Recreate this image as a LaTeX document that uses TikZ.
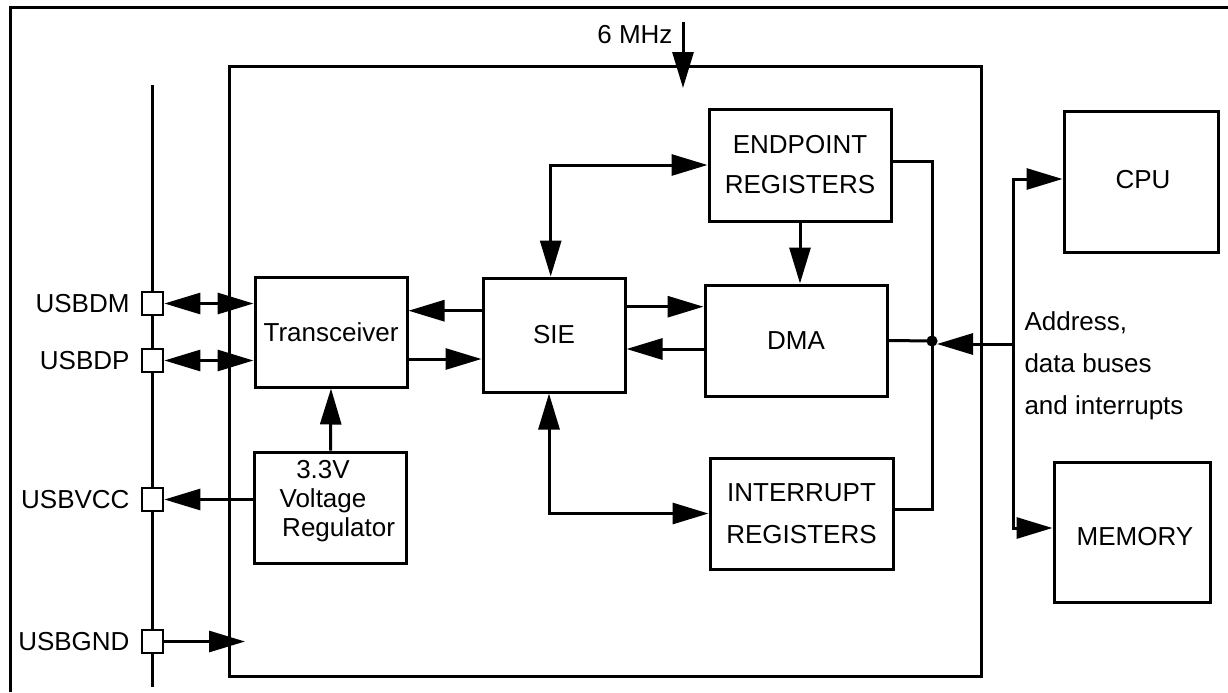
\documentclass[tikz,border=0pt]{standalone}
\usepackage{fontspec}
\setmainfont{Liberation Sans}
\usetikzlibrary{arrows.meta}
\begin{document}
\begin{tikzpicture}[x=0.5pt,y=-0.5pt,
  line width=1.5pt,
  every node/.style={font=\fontsize{13pt}{15pt}\selectfont, inner sep=0pt},
  blk/.style={draw, line width=1.5pt, align=center},
  pin/.style={draw, fill=white, line width=1.4pt, minimum width=10.5pt, minimum height=11.5pt},
  tipT/.tip={Triangle[length=18pt,width=10.5pt]},
  arr/.style={-tipT},
  dbl/.style={tipT-tipT}]
\useasboundingbox (0,0) rectangle (1228,692);

% outer frame (partly outside)
\draw (10,692) -- (10,7) -- (1228,7);

% chip outline
\draw (229,66) rectangle (981,676);

% USB bus line
\draw (152.5,85) -- (152.5,687);

% pins
\node[pin] (pdm) at (152.5,303.5) {};
\node[pin] (pdp) at (152.5,360.5) {};
\node[pin] (pvcc) at (152.5,499.5) {};
\node[pin] (pgnd) at (152.5,641.5) {};
\node[anchor=east] (ldm) at (131,303.5) {USBDM};
\node[anchor=east] (ldp) at (131,360.5) {USBDP};
\node[anchor=east] (lvcc) at (131,499.5) {USBVCC};
\node[anchor=east] (lgnd) at (131,641.5) {USBGND};

% blocks
\node[blk, minimum width=76pt, minimum height=55pt] (trans) at (331,332) {Transceiver};
\node[blk, minimum width=76pt, minimum height=55.5pt] (reg) at (330.5,507.5) {};
\node[align=center, font=\fontsize{13pt}{14.5pt}\selectfont] (reglbl) at (323,501) {3.3V\\Voltage\\\hspace*{1.2em}Regulator};
\node[blk, minimum width=71pt, minimum height=57pt] (sie) at (554,335) {SIE};
\node[blk, minimum width=91pt, minimum height=55.5pt] (dma) at (796,340.5) {DMA};
\node[blk, minimum width=91pt, minimum height=56pt, font=\fontsize{13pt}{20pt}\selectfont] (ep) at (800,165) {ENDPOINT\\REGISTERS};
\node[blk, minimum width=91.5pt, minimum height=55.5pt, font=\fontsize{13pt}{21pt}\selectfont] (intr) at (801.5,513.5) {INTERRUPT\\REGISTERS};
\node[blk, minimum width=77pt, minimum height=70.5pt] (cpu) at (1141,181.5) {};
\node (cpulbl) at (1143,180) {CPU};
\node[blk, minimum width=78pt, minimum height=70pt] (mem) at (1132,532) {};
\node (memlbl) at (1135,537) {MEMORY};

% clock
\node[anchor=east] (mhz) at (674,35) {6 MHz};
\coordinate (clk) at (683,22);
\coordinate (clkin) at (683,88);
\draw[arr] (clk) -- (clkin);

% pin connections
\draw[dbl] (pdm.east) -- (pdm.east -| trans.west);
\draw[dbl] (pdp.east) -- (pdp.east -| trans.west);
\draw[arr] (reg.west |- pvcc) -- (pvcc.east);
\coordinate (gndin) at (245,641.5);
\draw[arr] (pgnd.east) -- (gndin);
\draw[arr] (reg.north) -- (trans.south);

% transceiver <-> SIE
\path ([yshift=12.15pt]sie.west) coordinate (c1);
\draw[arr] (c1) -- (c1 -| trans.east);
\path ([yshift=-13.5pt]trans.east) coordinate (c2);
\draw[arr] (c2) -- (c2 -| sie.west);

% SIE <-> DMA
\path ([yshift=14.15pt]sie.east) coordinate (c3);
\draw[arr] (c3) -- (c3 -| dma.west);
\path ([yshift=-4.25pt]dma.west) coordinate (c4);
\draw[arr] (c4) -- (c4 -| sie.east);

% SIE <-> registers
\draw[dbl] ([xshift=-1.65pt]sie.north) |- (ep.west);
\draw[dbl] ([xshift=-2.5pt]sie.south) |- (intr.west);
\draw[arr] (ep.south) -- (ep.south |- dma.north);

% internal bus
\coordinate (j) at (932,341);
\draw ([yshift=2pt]ep.east) -| (j);
\draw ([yshift=2.25pt]intr.east) -| (j);
\draw (dma.east) -- (j);
\fill (j) circle (2.8pt);

% external bus
\coordinate (bj) at (1013,344);
\coordinate (jt) at (937,344);
\draw[arr] (bj) -- (jt);
\draw[arr] (bj) |- ([yshift=1.25pt]cpu.west);
\draw[arr] (bj) |- ([yshift=2pt]mem.west);
\node[anchor=west, align=left, font=\fontsize{13pt}{21pt}\selectfont] (bus) at (1023,366) {Address,\\data buses\\and interrupts};
\end{tikzpicture}
\end{document}
